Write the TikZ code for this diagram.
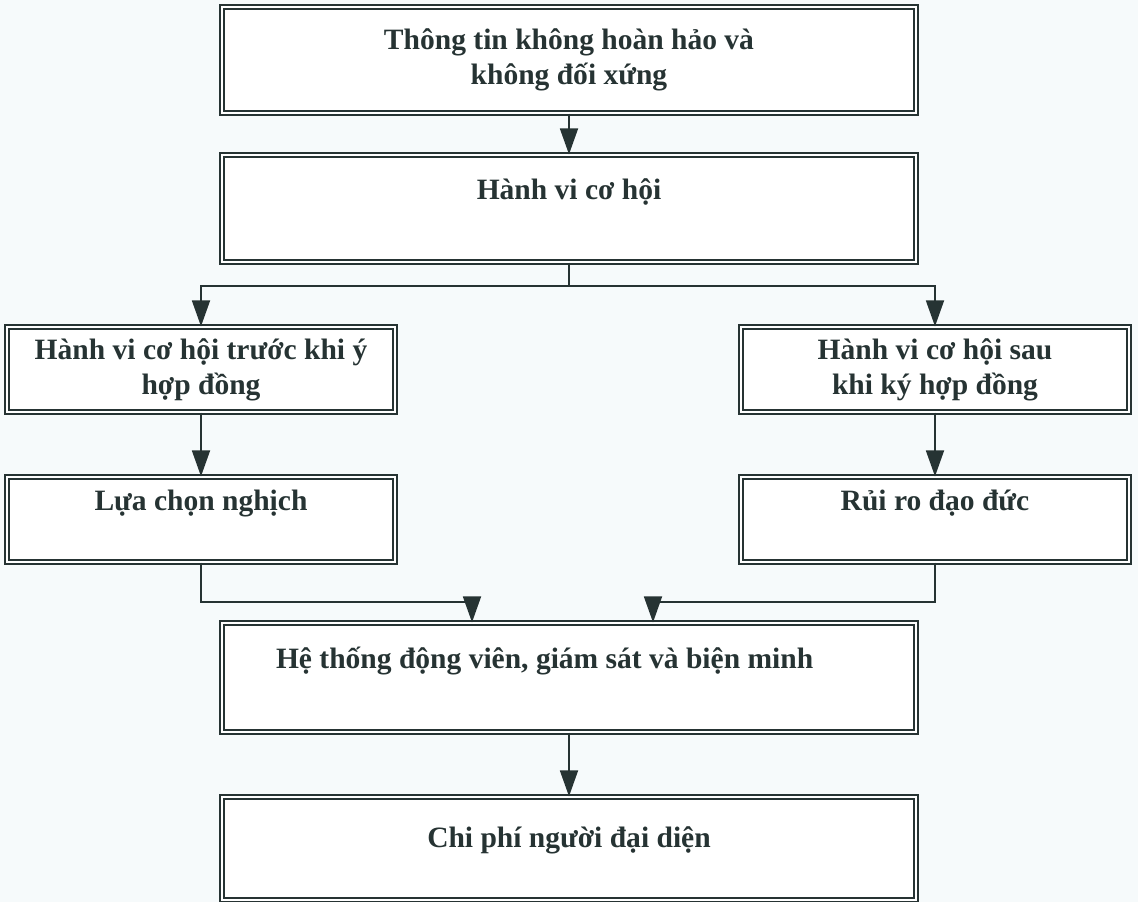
\documentclass[tikz,border=0pt]{standalone}
\usepackage{fontspec}
\setmainfont{Liberation Serif}
\usetikzlibrary{arrows.meta,positioning,calc}
\definecolor{ink}{HTML}{263333}
\definecolor{paper}{HTML}{F6FAFB}

\begin{document}
\begin{tikzpicture}[
    block/.style={rectangle, draw=ink, double=white, double distance=2pt, line width=0.9pt, fill=white, text=ink, font=\fontsize{21}{25}\selectfont\bfseries, align=center, inner xsep=6pt, inner ysep=0pt},
    wide/.style={block, minimum width=17.35cm},
    side/.style={block, minimum width=9.7cm},
    arrow/.style={-{Triangle[length=0.65cm,width=0.45cm]}, draw=ink, line width=1.3pt}
]
% Page
\fill[paper] (0,0) rectangle (28.45,-22.55);
\useasboundingbox (0,0) rectangle (28.45,-22.55);

% Information
\node[wide, minimum height=2.65cm] (info) at (14.225,-1.5) {Thông tin không hoàn hảo và\\không đối xứng};

% Opportunism
\node[wide, text height=1.125cm, text depth=1.55cm] (behav) at (14.225,-5.2125) {Hành vi cơ hội};

% Before / after the contract
\node[side, minimum height=2.125cm] (pre) at (5.025,-9.2375) {Hành vi cơ hội trước khi ý\\hợp đồng};
\node[side, minimum height=2.125cm] (post) at (23.375,-9.2375) {Hành vi cơ hội sau\\khi ký hợp đồng};

% Consequences
\node[side, text height=0.825cm, text depth=1.3cm] (adverse) at (5.025,-12.9875) {Lựa chọn nghịch};
\node[side, text height=0.825cm, text depth=1.3cm] (moral) at (23.375,-12.9875) {Rủi ro đạo đức};

% Remedies
\node[wide, align=flush left, inner xsep=1.325cm, text width=14.65cm, text height=1.125cm, text depth=1.6cm] (monitor) at (14.225,-16.9375) {Hệ thống động viên, giám sát và biện minh};

% Cost
\node[wide, text height=1.25cm, text depth=1.325cm] (cost) at (14.225,-21.2125) {Chi phí người đại diện};

% Arrows
\coordinate (split) at ($(behav.south)+(0,-0.575)$);
\coordinate (inL) at ($(monitor.north)+(-2.425,0.5)$);
\coordinate (inR) at ($(monitor.north)+(2.1,0.5)$);
\draw[arrow] (info) -- (behav);
\draw[arrow] (behav.south) -- (split) -| (pre.north);
\draw[arrow] (split) -| (post.north);
\draw[arrow] (pre) -- (adverse);
\draw[arrow] (post) -- (moral);
\draw[arrow] (adverse.south) |- (inL) -- (inL |- monitor.north);
\draw[arrow] (moral.south) |- (inR) -- (inR |- monitor.north);
\draw[arrow] (monitor) -- (cost);

\end{tikzpicture}
\end{document}
